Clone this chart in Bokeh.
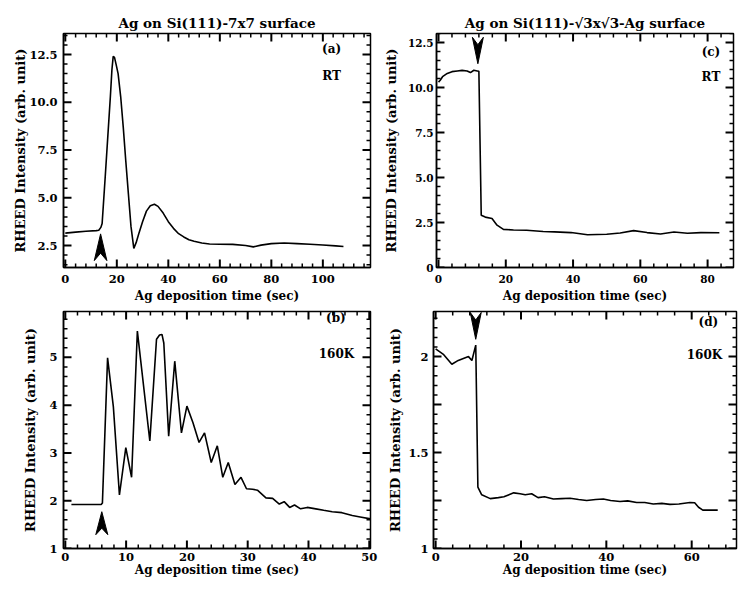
import math
import numpy as np
from bokeh.plotting import figure
from bokeh.models import Range1d, LinearAxis, FixedTicker, PrintfTickFormatter, Label
from bokeh.layouts import row, column
from bokeh.embed import file_html
from bokeh.resources import INLINE

# ---------------- data ----------------
time_a = [0, 4, 8, 12, 13.0, 13.8, 14.3, 15.5, 16.5, 17.5, 18.1, 18.6, 19.1, 19.7,
          20.5, 21.5, 22.5, 23.5, 24.5, 25.5, 26.6, 27.5, 28.5, 30, 31.5, 33, 34.6,
          36, 38, 40, 42, 44, 46, 48, 50, 53, 56, 60, 65, 70, 73, 76, 80, 85, 90,
          95, 100, 105, 108]
intensity_a = [3.15, 3.2, 3.25, 3.28, 3.3, 3.45, 3.65, 6.1, 8.2, 10.3, 11.7, 12.4,
               12.35, 12.0, 11.5, 10.3, 8.7, 6.9, 5.2, 3.5, 2.35, 2.65, 3.1, 3.75,
               4.3, 4.58, 4.66, 4.55, 4.2, 3.75, 3.4, 3.12, 2.95, 2.8, 2.72, 2.63,
               2.58, 2.57, 2.56, 2.5, 2.43, 2.52, 2.6, 2.63, 2.6, 2.57, 2.53, 2.48, 2.45]

time_b = [1.0, 3, 5.9, 6.1, 6.95, 7.9, 8.9, 9.95, 10.9, 11.85, 13.9, 15.0, 15.5,
          15.9, 16.2, 17.0, 18.0, 19.1, 20.0, 21.0, 22.0, 22.9, 24.0, 25.0, 25.9,
          26.8, 27.9, 28.9, 29.8, 30.8, 31.6, 33.0, 34.1, 35.2, 36.0, 36.9, 37.7,
          38.7, 39.8, 41.2, 42.5, 43.9, 45.5, 47.2, 48.5, 50.2]
intensity_b = [1.92, 1.92, 1.92, 1.95, 4.99, 3.97, 2.12, 3.11, 2.49, 5.55, 3.25,
               5.38, 5.47, 5.48, 5.3, 3.35, 4.92, 3.42, 3.98, 3.63, 3.22, 3.42, 2.80,
               3.15, 2.49, 2.80, 2.34, 2.49, 2.25, 2.24, 2.22, 2.06, 2.05, 1.93,
               1.98, 1.86, 1.91, 1.83, 1.86, 1.83, 1.8, 1.77, 1.75, 1.69, 1.66, 1.62]

time_c = [0, 0.5, 1.2, 2.6, 4, 5.6, 7, 8.5, 9.5, 10.5, 11.5, 12.0, 12.7, 13.9,
          15.9, 17.4, 19.3, 22.3, 26.2, 31.1, 34.5, 39.4, 44.3, 50, 54, 58, 62,
          66, 70, 74, 78, 83.5]
intensity_c = [10.3, 10.4, 10.6, 10.78, 10.88, 10.92, 10.95, 10.92, 10.83, 10.96,
               10.92, 10.9, 2.9, 2.8, 2.72, 2.35, 2.12, 2.08, 2.07, 2.0, 1.98, 1.94,
               1.82, 1.85, 1.92, 2.05, 1.94, 1.86, 1.97, 1.9, 1.94, 1.93]

time_d = [0, 1.9, 3.8, 5.3, 7.7, 8.5, 9.4, 9.9, 10.8, 12.8, 14.7, 16, 18.3, 19.8,
          21, 22.5, 24, 25.5, 27.6, 29.5, 31.5, 33.5, 35.4, 37.5, 39.3, 41, 43.2,
          45, 47.1, 49, 51, 53, 54.9, 57, 59.6, 60.7, 61.6, 62.6, 64, 66.1]
intensity_d = [2.04, 2.01, 1.96, 1.98, 2.0, 1.98, 2.06, 1.32, 1.28, 1.26, 1.265,
               1.27, 1.29, 1.285, 1.28, 1.285, 1.265, 1.27, 1.258, 1.26, 1.262,
               1.255, 1.25, 1.255, 1.258, 1.25, 1.245, 1.248, 1.24, 1.24, 1.232,
               1.235, 1.23, 1.232, 1.24, 1.238, 1.215, 1.2, 1.2, 1.2]

arrow_times = [13.7, 6.0, 11.7, 9.4]
arrow_tips = [3.11, 1.77, 11.32, 2.09]
arrow_bases = [1.71, 1.29, 12.79, 2.23]

xticks_a = [0, 20, 40, 60, 80, 100]
yticks_a = [2.5, 5.0, 7.5, 10.0, 12.5]
xticks_b = [0, 10, 20, 30, 40, 50]
yticks_b = [1, 2, 3, 4, 5]
xticks_c = [0, 20, 40, 60, 80]
yticks_c = [0, 2.5, 5.0, 7.5, 10.0, 12.5]
xticks_d = [0, 20, 40, 60]
yticks_d = [1.0, 1.25, 1.5, 1.75, 2.0]
ylabels_d = {1.0: "1", 1.25: "", 1.5: "1.5", 1.75: "", 2.0: "2"}

titles = ["Ag on Si(111)-7x7 surface", "Ag on Si(111)-\u221a3x\u221a3-Ag surface"]
panel_tags = ["(a)", "(b)", "(c)", "(d)"]
conditions = ["RT", "160K", "RT", "160K"]
x_label = "Ag deposition time (sec)"
y_label = "RHEED Intensity (arb. unit)"

FONT = "DejaVu Serif"


def minor_values(major, lo, hi):
    step = (major[1] - major[0]) / 5.0
    k0 = math.ceil(lo / step - 1e-9)
    k1 = math.floor(hi / step + 1e-9)
    out = []
    for k in range(k0, k1 + 1):
        v = k * step
        if all(abs(v - m) > step * 0.1 for m in major):
            out.append(v)
    return out


def tick_path(pairs_x, pairs_y):
    # join short two-point strokes into one NaN-separated path
    xs, ys = [], []
    for (xa, xb), (ya, yb) in zip(pairs_x, pairs_y):
        xs += [xa, xb, np.nan]
        ys += [ya, yb, np.nan]
    return np.array(xs, dtype=float), np.array(ys, dtype=float)


def add_ticks(p, xr, yr, xt, yt, fw, fh):
    # inward tick marks on all four frame edges
    dx = (xr[1] - xr[0]) / fw
    dy = (yr[1] - yr[0]) / fh
    xall = [v for v in xt if xr[0] - 1e-9 <= v <= xr[1] + 1e-9]
    yall = [v for v in yt if yr[0] - 1e-9 <= v <= yr[1] + 1e-9]
    xmin = minor_values(xt, xr[0], xr[1])
    ymin = minor_values(yt, yr[0], yr[1])
    for vals, ln, lw in ((xall, 8, 2.0), (xmin, 4, 1.5)):
        px = [(v, v) for v in vals] * 2
        py = ([(yr[0], yr[0] + ln * dy) for v in vals] +
              [(yr[1], yr[1] - ln * dy) for v in vals])
        tx, ty = tick_path(px, py)
        p.line(tx, ty, line_color="black", line_width=lw)
    for vals, ln, lw in ((yall, 8, 2.0), (ymin, 4, 1.5)):
        px = ([(xr[0], xr[0] + ln * dx) for v in vals] +
              [(xr[1], xr[1] - ln * dx) for v in vals])
        py = [(v, v) for v in vals] * 2
        tx, ty = tick_path(px, py)
        p.line(tx, ty, line_color="black", line_width=lw)


def style_axis(ax, label_sd, size):
    ax.major_tick_in = 0
    ax.major_tick_out = 0
    ax.minor_tick_in = 0
    ax.minor_tick_out = 0
    ax.axis_line_color = "black"
    ax.axis_line_width = 1.5
    ax.major_label_text_font = FONT
    ax.major_label_text_font_style = "bold"
    ax.major_label_text_color = "black"
    ax.major_label_text_font_size = size
    ax.major_label_standoff = label_sd
    ax.axis_label_text_font = FONT
    ax.axis_label_text_font_style = "bold"
    ax.axis_label_text_color = "black"


def make_panel(t, y, xr, yr, xt, yt, yfmt, yover, w, h, bl, br, bt, bb,
               title, tag, cond, tag_xy, cond_xy, arrow_idx, hw_px,
               xl_sd, xa_sd, yl_sd, ya_sd, tick_size="11.5px"):
    p = figure(width=w, height=h, x_range=Range1d(*xr), y_range=Range1d(*yr),
               x_axis_type=None, y_axis_type=None, output_backend="svg",
               toolbar_location=None, min_border_left=bl, min_border_right=br,
               min_border_top=bt, min_border_bottom=bb)
    p.background_fill_color = "white"
    p.border_fill_color = "white"
    p.outline_line_color = "black"
    p.outline_line_width = 1.5

    xax = LinearAxis(ticker=FixedTicker(ticks=xt),
                     formatter=PrintfTickFormatter(format="%d"))
    style_axis(xax, xl_sd, tick_size)
    xax.axis_label = x_label
    xax.axis_label_text_font_size = "12px"
    xax.axis_label_standoff = xa_sd
    p.add_layout(xax, "below")

    yax = LinearAxis(ticker=FixedTicker(ticks=yt),
                     formatter=PrintfTickFormatter(format=yfmt))
    style_axis(yax, yl_sd, tick_size)
    yax.major_label_overrides = yover
    yax.axis_label = y_label
    yax.axis_label_text_font_size = "13px"
    yax.axis_label_standoff = ya_sd
    p.add_layout(yax, "left")

    if title:
        p.title.text = title
        p.title.align = "center"
        p.title.text_font = FONT
        p.title.text_font_style = "bold"
        p.title.text_font_size = "13.5px"
        p.title.text_color = "black"
        p.title.standoff = 6

    fw = w - bl - br
    fh = h - bt - bb
    add_ticks(p, xr, yr, xt, yt, fw, fh)

    p.line(t, y, line_color="black", line_width=1.6)

    hw = hw_px * (xr[1] - xr[0]) / fw
    xa = arrow_times[arrow_idx]
    tip = arrow_tips[arrow_idx]
    base = arrow_bases[arrow_idx]
    notch = base + 0.28 * (tip - base)
    p.patch([xa, xa - hw, xa, xa + hw], [tip, base, notch, base],
            fill_color="black", line_color="black", line_width=1)

    for txt, (lx, ly) in ((tag, tag_xy), (cond, cond_xy)):
        p.add_layout(Label(x=lx, y=ly, text=txt, text_font=FONT,
                           text_font_style="bold", text_font_size="12px",
                           text_color="black", text_align="center",
                           text_baseline="middle"))
    return p


# layout: page origin is the top-left corner of the picture
pa = make_panel(time_a, intensity_a, (-0.7, 118.5), (1.35, 13.6), xticks_a, yticks_a,
                "%.1f", {}, 380, 310, 63, 10, 33, 43, titles[0], panel_tags[0],
                conditions[0], (103.4, 12.8), (103.4, 11.35), 0, 6.3, 7, 3, 6, -2)
pc = make_panel(time_c, intensity_c, (-0.6, 87.7), (0, 13.0), xticks_c, yticks_c,
                "%.1f", {0: "0"}, 360, 310, 55, 7, 33, 41, titles[1], panel_tags[2],
                conditions[2], (81.0, 11.95), (81.0, 10.57), 2, 5.5, 7, 3, 3, 6,
                "10.5px")
pb = make_panel(time_b, intensity_b, (-0.3, 50.2), (1.0, 5.96), xticks_b, yticks_b,
                "%d", {}, 380, 280, 63, 10, 0, 42, None, panel_tags[1], conditions[1],
                (44.5, 5.82), (44.6, 5.07), 1, 6.0, 4, -1, 6, 8)
pd_ = make_panel(time_d, intensity_d, (-0.5, 70.5), (1.0, 2.235), xticks_d, yticks_d,
                 "%g", ylabels_d, 360, 280, 53, 4, 1, 42, None, panel_tags[3],
                 conditions[3], (63.9, 2.18), (63.0, 2.01), 3, 5.5, 4, -1, 5, 2)

layout = column(row(pa, pc), row(pb, pd_))
open("out.html", "w").write(file_html(layout, INLINE))
